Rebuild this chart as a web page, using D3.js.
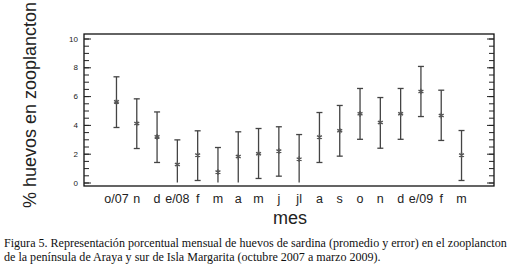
<!DOCTYPE html>
<html>
<head>
<meta charset="utf-8">
<script src="https://cdn.jsdelivr.net/npm/d3@7"></script>
<style>
  body { margin: 0; background: #fff; }
  svg { display: block; }
</style>
</head>
<body>
<div id="chart"></div>
<script>
/* DATA */
const months = ["o/07", "n", "d", "e/08", "f", "m", "a", "m", "j", "jl", "a", "s", "o", "n", "d", "e/09", "f", "m"];
const means  = [5.6, 4.1, 3.17, 1.25, 1.9, 0.72, 1.8, 2.0, 2.18, 1.62, 3.15, 3.59, 4.77, 4.17, 4.77, 6.32, 4.65, 1.9];
const upper  = [7.34, 5.81, 4.9, 2.96, 3.59, 2.43, 3.52, 3.75, 3.87, 3.33, 4.86, 5.35, 6.53, 5.9, 6.53, 8.06, 6.41, 3.61];
const lower  = [3.82, 2.36, 1.39, 0, 0.14, 0, 0, 0.28, 0.44, 0, 1.39, 1.83, 3.0, 2.38, 3.0, 4.58, 2.92, 0.14];
const yTicks = [0, 2, 4, 6, 8, 10];

/* CONSTANTS */
const width = 518, height = 266;
const frame = {left: 84, right: 494, top: 34, bottom: 186};

const data = months.map((m, i) => ({i, m, mean: means[i], lo: lower[i], hi: upper[i]}));

const svg = d3.select("#chart").append("svg")
  .attr("width", width)
  .attr("height", height);

const xScale = d3.scaleLinear()
  .domain([-1.6, 18.6])
  .range([frame.left, frame.right]);

const yScale = d3.scaleLinear()
  .domain([0, 10])
  .range([182.5, 38.5]);

// frame
svg.append("rect")
  .attr("x", frame.left)
  .attr("y", frame.top)
  .attr("width", frame.right - frame.left)
  .attr("height", frame.bottom - frame.top)
  .attr("fill", "none")
  .attr("stroke", "#111")
  .attr("stroke-width", 1.3);

// y axis ticks: major + minor, left and mirrored right
const minor = d3.range(0, 10.01, 0.5);
const axisL = d3.axisRight(yScale).tickValues(minor).tickSize(5).tickFormat("");
const axisR = d3.axisLeft(yScale).tickValues(minor).tickSize(5).tickFormat("");
const majorL = d3.axisRight(yScale).tickValues(yTicks).tickSize(7).tickFormat("");
const majorR = d3.axisLeft(yScale).tickValues(yTicks).tickSize(7).tickFormat("");

[[axisL, frame.left], [majorL, frame.left], [axisR, frame.right], [majorR, frame.right]].forEach(([ax, x]) => {
  const g = svg.append("g").attr("transform", `translate(${x},0)`).call(ax);
  g.select(".domain").remove();
  g.selectAll("line").attr("stroke", "#222").attr("stroke-width", 1);
});

// y tick labels
svg.selectAll(".ylab")
  .data(yTicks)
  .join("text")
  .attr("class", "ylab")
  .attr("x", 78)
  .attr("y", d => yScale(d) + 3)
  .attr("text-anchor", "end")
  .attr("font-family", "Arial, Liberation Sans, sans-serif")
  .attr("font-size", 8)
  .attr("fill", "#222")
  .text(d => d);

// x tick labels
svg.selectAll(".xlab")
  .data(data)
  .join("text")
  .attr("class", "xlab")
  .attr("x", d => xScale(d.i))
  .attr("y", 203)
  .attr("text-anchor", "middle")
  .attr("font-family", "Arial, Liberation Sans, sans-serif")
  .attr("font-size", 12.5)
  .attr("fill", "#222")
  .text(d => d.m);

// error bars
const bars = svg.selectAll(".bar")
  .data(data)
  .join("g")
  .attr("class", "bar")
  .attr("stroke", "#444")
  .attr("stroke-width", 1.3);

bars.append("line")
  .attr("x1", d => xScale(d.i)).attr("x2", d => xScale(d.i))
  .attr("y1", d => yScale(d.hi)).attr("y2", d => yScale(d.lo));
bars.append("line")
  .attr("x1", d => xScale(d.i) - 3).attr("x2", d => xScale(d.i) + 3)
  .attr("y1", d => yScale(d.hi)).attr("y2", d => yScale(d.hi));
bars.filter(d => d.lo > 0).append("line")
  .attr("x1", d => xScale(d.i) - 3).attr("x2", d => xScale(d.i) + 3)
  .attr("y1", d => yScale(d.lo)).attr("y2", d => yScale(d.lo));

// markers
const star = d3.symbol().type(d3.symbolAsterisk).size(22);
svg.selectAll(".pt")
  .data(data)
  .join("path")
  .attr("class", "pt")
  .attr("transform", d => `translate(${xScale(d.i)},${yScale(d.mean)})`)
  .attr("d", star)
  .attr("fill", "none")
  .attr("stroke", "#555")
  .attr("stroke-width", 1.4);

// axis titles
svg.append("text")
  .attr("transform", `translate(36,105) rotate(-90)`)
  .attr("text-anchor", "middle")
  .attr("font-family", "Arial, Liberation Sans, sans-serif")
  .attr("font-size", 18)
  .attr("fill", "#222")
  .text("% huevos en zooplancton");

svg.append("text")
  .attr("x", 290)
  .attr("y", 224)
  .attr("text-anchor", "middle")
  .attr("font-family", "Arial, Liberation Sans, sans-serif")
  .attr("font-size", 18)
  .attr("fill", "#222")
  .text("mes");

// caption
const caption = [
  "Figura 5. Representación porcentual mensual de huevos de sardina (promedio y error) en el zooplancton",
  "de la península de Araya y sur de Isla Margarita (octubre 2007 a marzo 2009)."
];
svg.selectAll(".cap")
  .data(caption)
  .join("text")
  .attr("class", "cap")
  .attr("x", 4)
  .attr("y", (d, i) => 247 + i * 14)
  .attr("font-family", "Liberation Serif, Times New Roman, serif")
  .attr("font-size", 12.07)
  .attr("fill", "#111")
  .text(d => d);
</script>
</body>
</html>
